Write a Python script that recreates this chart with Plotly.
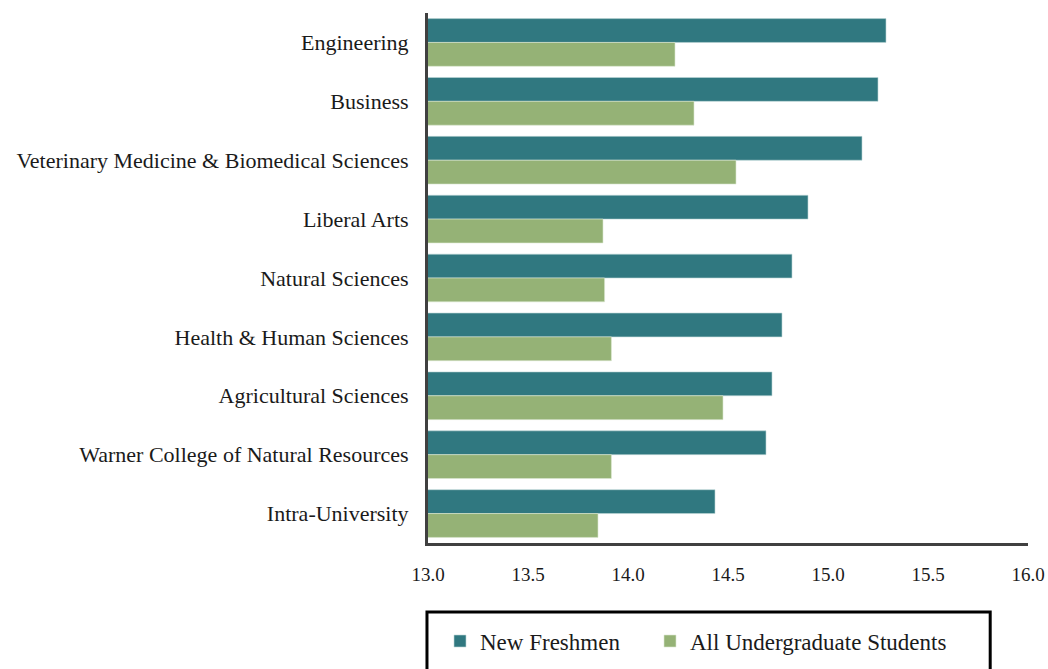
import plotly.graph_objects as go

categories = [
    "Engineering",
    "Business",
    "Veterinary Medicine & Biomedical Sciences",
    "Liberal Arts",
    "Natural Sciences",
    "Health & Human Sciences",
    "Agricultural Sciences",
    "Warner College of Natural Resources",
    "Intra-University",
]
new_freshmen = [15.29, 15.25, 15.17, 14.90, 14.82, 14.77, 14.72, 14.69, 14.435]
all_undergrad = [14.235, 14.33, 14.54, 13.875, 13.883, 13.917, 14.475, 13.917, 13.85]
x_ticks = [13.0, 13.5, 14.0, 14.5, 15.0, 15.5, 16.0]
series_names = ["New Freshmen", "All Undergraduate Students"]

teal = "#307880"
green = "#95B276"
font_family = "Liberation Serif, DejaVu Serif, serif"
text_color = "#1a1a1a"

fig = go.Figure()
fig.add_trace(go.Bar(
    y=categories, x=new_freshmen, name=series_names[0], orientation="h",
    base=0, legend="legend",
    marker=dict(color=teal, line=dict(color="rgba(190,215,215,0.6)", width=1)),
))
fig.add_trace(go.Bar(
    y=categories, x=all_undergrad, name=series_names[1], orientation="h",
    base=0, legend="legend2",
    marker=dict(color=green, line=dict(color="rgba(220,232,210,0.6)", width=1)),
))

legend_common = dict(
    orientation="h", y=-0.185, xanchor="left", yanchor="middle",
    font=dict(size=23, family=font_family, color=text_color),
    bgcolor="rgba(0,0,0,0)", borderwidth=0,
)

fig.update_layout(
    width=1048, height=669,
    margin=dict(l=428, r=20, t=13, b=126, autoexpand=False),
    paper_bgcolor="white", plot_bgcolor="white",
    barmode="group", bargap=0.19, bargroupgap=0,
    font=dict(family=font_family, color=text_color),
    showlegend=True,
    legend=dict(x=0.02, **legend_common),
    legend2=dict(x=0.37, **legend_common),
    xaxis=dict(
        range=[13.0, 16.0], tickvals=x_ticks,
        ticktext=[f"{v:.1f}" for v in x_ticks],
        showgrid=False, zeroline=False, automargin=False,
        showline=True, linecolor="#404040", linewidth=3,
        ticks="", ticklabelstandoff=12,
        tickfont=dict(size=19, family=font_family, color=text_color),
    ),
    yaxis=dict(
        autorange="reversed", showgrid=False, zeroline=False, automargin=False,
        showline=True, linecolor="#404040", linewidth=3,
        ticks="", ticklabelstandoff=12,
        tickfont=dict(size=22, family=font_family, color=text_color),
    ),
    shapes=[dict(
        type="rect", xref="paper", yref="paper",
        x0=-0.0017, x1=0.937, y0=-0.13, y1=-0.28,
        line=dict(color="black", width=3), fillcolor="rgba(0,0,0,0)",
    )],
)

fig.write_html(
    "out.html",
    config={"displayModeBar": False},
    post_script="document.body.style.margin='0';document.body.style.overflow='hidden';",
)
